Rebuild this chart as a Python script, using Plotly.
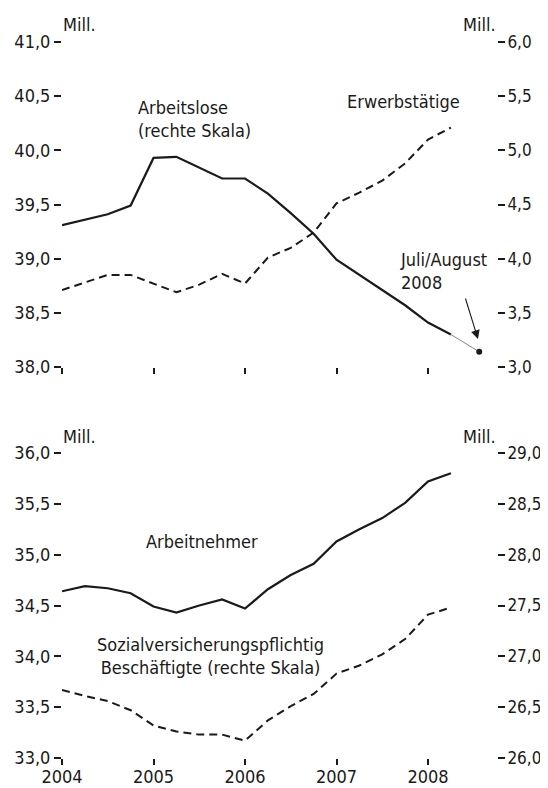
import plotly.graph_objects as go

# ---------------- data ----------------
quarters = [2004.00, 2004.25, 2004.50, 2004.75, 2005.00, 2005.25, 2005.50, 2005.75,
            2006.00, 2006.25, 2006.50, 2006.75, 2007.00, 2007.25, 2007.50, 2007.75,
            2008.00, 2008.25]
# top panel
erwerbstaetige = [38.71, 38.78, 38.85, 38.85, 38.77, 38.69, 38.76, 38.86,
                  38.77, 39.01, 39.10, 39.24, 39.51, 39.61, 39.72, 39.88,
                  40.10, 40.21]                      # left scale, Mill.
arbeitslose = [4.31, 4.36, 4.41, 4.49, 4.93, 4.94, 4.84, 4.74,
               4.74, 4.60, 4.42, 4.23, 3.99, 3.85, 3.71, 3.57,
               3.41, 3.30]                           # right scale, Mill.
juli_august_x = [2008.56]
juli_august_val = [3.14]
# bottom panel
arbeitnehmer = [34.64, 34.69, 34.67, 34.62, 34.49, 34.43, 34.50, 34.56,
                34.47, 34.66, 34.80, 34.91, 35.13, 35.25, 35.36, 35.51,
                35.72, 35.80]                        # left scale, Mill.
sozialvers = [26.67, 26.61, 26.56, 26.47, 26.32, 26.26, 26.23, 26.23,
              26.17, 26.37, 26.51, 26.63, 26.83, 26.91, 27.02, 27.17,
              27.41, 27.48]                          # right scale, Mill.

year_ticks = [2004, 2005, 2006, 2007, 2008]
year_labels = ["2004", "2005", "2006", "2007", "2008"]

# ---------------- layout geometry (screen pixels) ----------------
# the page body has an 8px margin, so the figure starts at (8, 8)
PAGE = 8
SW, SH = 548, 788                     # browser window
W, H = SW - PAGE, SH - PAGE           # figure size
PLOT_L, PLOT_R, PLOT_T, PLOT_B = 62, 497, 42, 758   # plot area on screen
L, R, T, B = PLOT_L - PAGE, SW - PLOT_R, PLOT_T - PAGE, SH - PLOT_B
PW, PH = PLOT_R - PLOT_L, PLOT_B - PLOT_T


def px2x(px):
    return (px - PLOT_L) / PW


def py2y(py):
    return (PLOT_B - py) / PH


FONT = "DejaVu Sans Condensed, DejaVu Sans, sans-serif"
FS = 18
FS_R = 17
INK = "#1a1a1a"

fig = go.Figure()

# top panel
fig.add_trace(go.Scatter(x=quarters, y=erwerbstaetige, mode="lines",
                         line=dict(color=INK, width=2, dash="8px,5px"),
                         xaxis="x", yaxis="y", showlegend=False))
fig.add_trace(go.Scatter(x=quarters, y=arbeitslose, mode="lines",
                         line=dict(color=INK, width=2.2),
                         xaxis="x", yaxis="y2", showlegend=False))
fig.add_trace(go.Scatter(x=[quarters[-1], juli_august_x[0]],
                         y=[arbeitslose[-1], juli_august_val[0]], mode="lines",
                         line=dict(color="#888888", width=1),
                         xaxis="x", yaxis="y2", showlegend=False))
fig.add_trace(go.Scatter(x=juli_august_x, y=juli_august_val, mode="markers",
                         marker=dict(color=INK, size=6, symbol="circle"),
                         xaxis="x", yaxis="y2", showlegend=False))

# bottom panel
fig.add_trace(go.Scatter(x=quarters, y=arbeitnehmer, mode="lines",
                         line=dict(color=INK, width=2.2),
                         xaxis="x2", yaxis="y3", showlegend=False))
fig.add_trace(go.Scatter(x=quarters, y=sozialvers, mode="lines",
                         line=dict(color=INK, width=2, dash="8px,5px"),
                         xaxis="x2", yaxis="y4", showlegend=False))

x_range = [2004.0, 2004.0 + PW / 91.5]
top_dom = [py2y(367), 1.0]
bot_dom = [0.0, py2y(453)]

common_x = dict(range=x_range, domain=[0, 1], showgrid=False, zeroline=False,
                showline=False, ticks="outside", ticklen=6, tickwidth=2,
                tickcolor=INK, tickvals=year_ticks, ticktext=year_labels,
                tickfont=dict(family=FONT, size=FS, color=INK), fixedrange=True,
                automargin=False)
common_y = dict(showgrid=False, zeroline=False, showline=False, ticks="outside",
                ticklen=7, tickwidth=2, tickcolor=INK, dtick=0.5,
                tickformat=".1f", tickfont=dict(family=FONT, size=FS, color=INK),
                fixedrange=True, automargin=False)
right_font = dict(family=FONT, size=FS_R, color=INK)

fig.update_layout(
    template="none",
    width=W, height=H,
    margin=dict(l=L, r=R, t=T, b=B, pad=0, autoexpand=False),
    paper_bgcolor="white", plot_bgcolor="white",
    separators=",.",
    font=dict(family=FONT, size=FS, color=INK),
    xaxis=dict(common_x, anchor="y", showticklabels=False),
    xaxis2=dict(common_x, anchor="y3", showticklabels=True, ticklabelstandoff=-4),
    yaxis=dict(common_y, domain=top_dom, range=[38, 41], anchor="x", side="left",
               tick0=38),
    yaxis2=dict(common_y, domain=top_dom, range=[3, 6], anchor="x", side="right",
                overlaying="y", tick0=3, tickfont=right_font,
                ticklabelstandoff=-1),
    yaxis3=dict(common_y, domain=bot_dom, range=[33, 36], anchor="x2", side="left",
                tick0=33),
    yaxis4=dict(common_y, domain=bot_dom, range=[26, 29], anchor="x2", side="right",
                overlaying="y3", tick0=26, tickfont=right_font,
                ticklabelstandoff=-1),
)

OFF = 8


def label(text, px, py_top, xanchor="left", align="left"):
    fig.add_annotation(text=text, xref="paper", yref="paper",
                       x=px2x(px), y=py2y(py_top - OFF), xanchor=xanchor,
                       yanchor="top", align=align, showarrow=False,
                       font=dict(family=FONT, size=FS, color=INK))


label("Mill.", 61, 20)
label("Mill.", 498, 20, xanchor="right", align="right")
label("Mill.", 61, 432)
label("Mill.", 498, 432, xanchor="right", align="right")
label("Arbeitslose<br>(rechte Skala)", 136, 103)
label("Erwerbstätige", 345, 97)
label("Juli/August<br>2008", 398, 255)
label("Arbeitnehmer", 144, 537)
label("Sozialversicherungspflichtig<br>Beschäftigte (rechte Skala)", 210, 640,
      xanchor="center", align="center")

# arrow pointing at the Juli/August 2008 value
fig.add_annotation(text="", xref="paper", yref="paper",
                   x=px2x(478), y=py2y(339), ax=465 - 478, ay=297 - 339,
                   axref="pixel", ayref="pixel", showarrow=True,
                   arrowhead=2, arrowsize=1.6, arrowwidth=1.1, arrowcolor=INK)

fig.write_html("out.html")
